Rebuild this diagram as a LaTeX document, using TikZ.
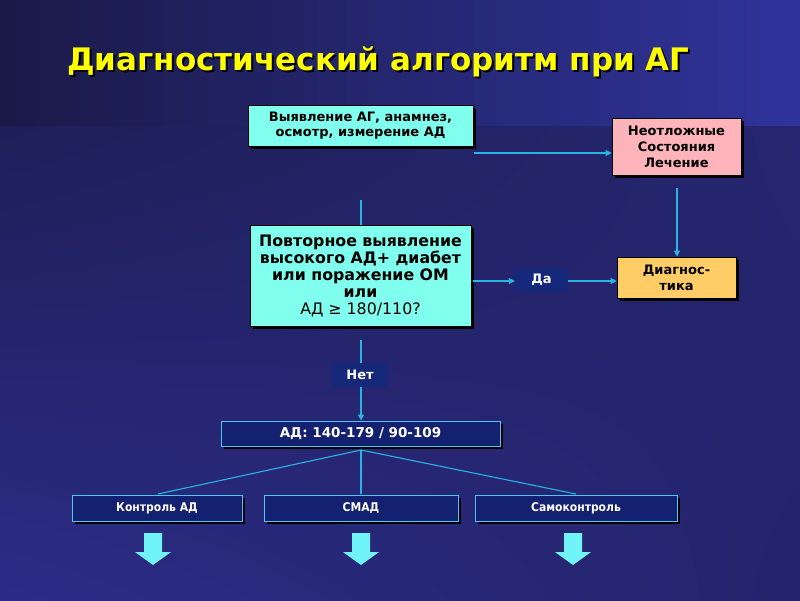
\documentclass[tikz,border=0pt]{standalone}
\usepackage{fontspec}
\setmainfont{DejaVu Sans}
\newfontfamily\condf{DejaVu Sans Condensed}
\usetikzlibrary{shadows,shadings,arrows.meta,calc}
\definecolor{bgA}{HTML}{1A1A48}
\definecolor{bgB}{HTML}{30339A}
\definecolor{bgUL}{RGB}{30,30,88}
\definecolor{bgUR}{RGB}{38,38,112}
\definecolor{bgLL}{RGB}{44,44,136}
\definecolor{bgLR}{RGB}{36,36,108}
\definecolor{cyanbox}{HTML}{80FFEE}
\definecolor{pinkbox}{HTML}{FFB3BA}
\definecolor{orangebox}{HTML}{FFCC66}
\definecolor{navybox}{HTML}{142070}
\definecolor{labbox}{HTML}{16287A}
\definecolor{conncol}{HTML}{2AB4E4}
\definecolor{arrcol}{HTML}{70F4F8}
\definecolor{titlecol}{HTML}{FFFF00}
\tikzset{
  shad/.style={drop shadow={shadow xshift=3pt,shadow yshift=-3pt,opacity=1,fill=black}},
  lightbox/.style={shad,draw=black,line width=0.6pt,align=center,inner sep=0pt,
     font=\bfseries\fontsize{13}{16}\selectfont,text=black},
  darkbox/.style={shad,draw=cyan!70!white,fill=navybox,line width=0.8pt,align=center,inner sep=0pt,
     font=\condf\bfseries\fontsize{12}{14}\selectfont,text=white},
  labelbox/.style={fill=labbox,inner sep=0pt,font=\bfseries\fontsize{13}{15}\selectfont,text=white},
  conn/.style={draw=conncol,line width=1.1pt},
  arr/.style={conn,-{Triangle[length=6pt,width=6pt]}},
  blockarrow/.style={fill=arrcol}
}
\newcommand{\shadowtext}[1]{\rlap{\kern2pt\raisebox{-2pt}{\color{black}#1}}#1}
\begin{document}
\begin{tikzpicture}[x=1pt,y=-1pt]
\useasboundingbox (0,0) rectangle (800,600);
% background
\shade[left color=bgA,right color=bgB] (0,0) rectangle (800,126);
\shade[upper left=bgUL,upper right=bgUR,lower left=bgLL,lower right=bgLR] (0,126) rectangle (800,600);
% title
\node[anchor=base west,text=titlecol,inner sep=0pt,font=\bfseries\fontsize{31}{34}\selectfont] (title) at (67,70) {\shadowtext{Диагностический алгоритм при АГ}};
% boxes
\node[lightbox,fill=cyanbox,minimum width=225pt,minimum height=41pt,font=\bfseries\fontsize{13}{15}\selectfont] (box1) at (360.5,125.5) {Выявление АГ, анамнез,\\осмотр, измерение АД};
\node[lightbox,fill=pinkbox,minimum width=129pt,minimum height=57pt] (neot) at (676.5,146.5) {Неотложные\\Состояния\\Лечение};
\node[lightbox,fill=orangebox,minimum width=119pt,minimum height=41pt] (diag) at (676.5,277.5) {Диагнос-\\тика};
\node[lightbox,fill=cyanbox,minimum width=221pt,minimum height=101pt,
      font=\bfseries\fontsize{15.8}{17}\selectfont] (povt) at (360.5,275.5)
      {Повторное выявление\\высокого АД+ диабет\\или поражение ОМ\\или\\\mdseries АД ≥ 180/110?};
\node[labelbox,minimum width=53pt,minimum height=24pt] (da) at (541.5,280) {Да};
\node[labelbox,minimum width=56pt,minimum height=24pt] (net) at (360,375) {Нет};
\node[darkbox,minimum width=279pt,minimum height=25pt,font=\bfseries\fontsize{13.5}{15}\selectfont] (ad) at (360.5,433.5) {АД: 140-179 / 90-109};
\node[darkbox,minimum width=170pt,minimum height=26pt] (k1) at (157,508) {Контроль АД};
\node[darkbox,minimum width=194pt,minimum height=26pt] (k2) at (361,508) {СМАД};
\node[darkbox,minimum width=202pt,minimum height=26pt] (k3) at (576,508) {Самоконтроль};
% connectors
\coordinate (c1) at (474,153);
\draw[arr] (c1) -- (c1 -| neot.west);
\coordinate (c2) at (677,188);
\draw[arr] (c2) -- (c2 |- diag.north);
\coordinate (c3) at (361,200);
\draw[conn] (c3) -- (c3 |- povt.north);
\coordinate (c4) at (473,281);
\draw[arr] (c4) -- (c4 -| da.west);
\draw[arr] (da.east |- c4) -- (c4 -| diag.west);
\coordinate (c5) at (361,340);
\draw[conn] (c5) -- (c5 |- net.north);
\draw[arr] (c5 |- net.south) -- (c5 |- ad.north);
\coordinate (c6) at (361,450);
\coordinate (t1) at (158,494);
\coordinate (t2) at (361,494);
\coordinate (t3) at (576,494);
\draw[conn] (t1) -- (c6) -- (t3);
\draw[conn] (c6) -- (t2);
% block arrows
\foreach \xx in {153,361,573}{
  \fill[blockarrow] (\xx-9,533) -- (\xx+9,533) -- (\xx+9,552) -- (\xx+18,552) -- (\xx,565) -- (\xx-18,552) -- (\xx-9,552) -- cycle;
}
\end{tikzpicture}
\end{document}
